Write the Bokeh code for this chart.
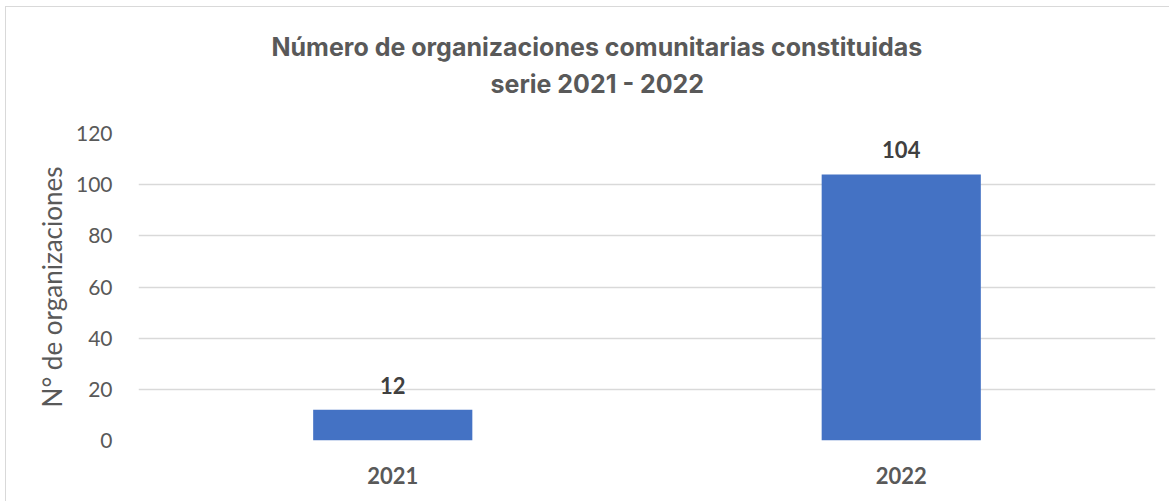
from bokeh.plotting import figure
from bokeh.models import Title, ColumnDataSource, FixedTicker
from bokeh.core.properties import value
from bokeh.embed import file_html
from bokeh.resources import INLINE

years = ["2021", "2022"]
counts = [12, 104]
y_ticks = [0, 20, 40, 60, 80, 100, 120]
title_line1 = "Número de organizaciones comunitarias constituidas"
title_line2 = "serie 2021 - 2022"
y_label = "N° de organizaciones"

src = ColumnDataSource(data=dict(year=years, count=counts, label=[str(c) for c in counts]))

p = figure(x_range=years, y_range=(0, 120), width=1164, height=495,
           output_backend="svg", toolbar_location=None, title=None,
           min_border_left=132, min_border_right=15, min_border_top=126, min_border_bottom=62)

grey = "#595959"
title_style = dict(text_font="Inter", text_font_size="25px", text_font_style="bold",
                   text_color=grey)
# spacer between the frame and the second title line
p.add_layout(Title(text=" ", text_font_size="2px", standoff=22), "above")
p.add_layout(Title(text=title_line2, align="left", offset=352, vertical_align="top",
                   standoff=14, **title_style), "above")
p.add_layout(Title(text=title_line1, align="left", offset=133, vertical_align="bottom",
                   standoff=0, **title_style), "above")

p.vbar(x="year", top="count", width=0.313, source=src, color="#4472C4", line_color=None)
p.text(x="year", y="count", text="label", source=src, text_align="center",
       text_baseline="bottom", y_offset=-16, text_font=value("Lato"),
       text_font_size="22px", text_font_style="bold", text_color="#404040")

p.outline_line_color = None
p.xgrid.grid_line_color = None
p.ygrid.grid_line_color = "#d9d9d9"
p.ygrid.grid_line_width = 1.3
p.yaxis.ticker = FixedTicker(ticks=y_ticks)
p.yaxis.axis_line_color = None
p.yaxis.major_tick_line_color = None
p.yaxis.minor_tick_line_color = None
p.yaxis.major_label_text_font = "Lato"
p.yaxis.major_label_text_font_size = "21px"
p.yaxis.major_label_text_color = grey
p.yaxis.major_label_standoff = 20
p.yaxis.axis_label = y_label
p.yaxis.axis_label_text_font = "Lato"
p.yaxis.axis_label_text_font_size = "26px"
p.yaxis.axis_label_text_font_style = "normal"
p.yaxis.axis_label_text_color = grey
p.yaxis.axis_label_standoff = 5

p.xaxis.axis_line_color = None
p.xaxis.major_tick_line_color = None
p.xaxis.major_label_text_font = "Lato"
p.xaxis.major_label_text_font_size = "22px"
p.xaxis.major_label_text_font_style = "bold"
p.xaxis.major_label_text_color = grey
p.xaxis.major_label_standoff = 20

p.styles = {"border-top": "1px solid #d9d9d9", "border-left": "1px solid #d9d9d9",
            "margin-left": "5px", "margin-top": "6px"}

open("out.html", "w").write(file_html(p, INLINE))
